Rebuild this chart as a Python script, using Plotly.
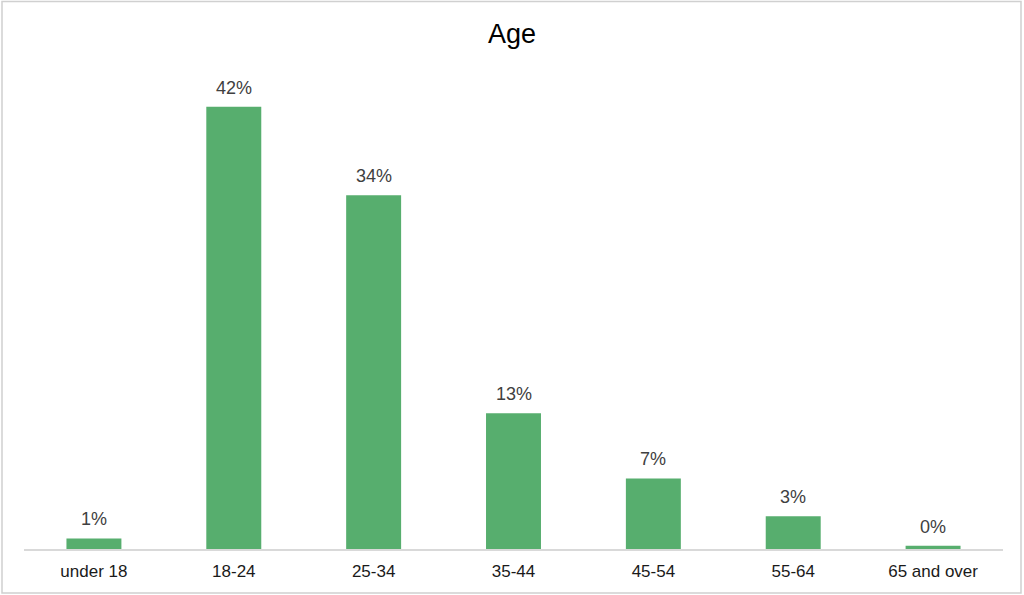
import plotly.graph_objects as go

# age groups and share of respondents (%)
age_groups = ["under 18", "18-24", "25-34", "35-44", "45-54", "55-64", "65 and over"]
share = [1.0, 42.0, 33.6, 12.9, 6.7, 3.1, 0.3]
share_labels = ["1%", "42%", "34%", "13%", "7%", "3%", "0%"]

W, H = 1024, 595
ml, mr, mt, mb = 24, 21, 60, 46
FONT = "Liberation Sans, Arial"

fig = go.Figure()
fig.add_trace(go.Bar(
    x=age_groups,
    y=share,
    marker=dict(color="#57AE6E", line=dict(width=0)),
    hoverinfo="x+y",
))

# value labels above the bars
for grp, val, lab in zip(age_groups, share, share_labels):
    fig.add_annotation(x=grp, y=val, text=lab, showarrow=False,
                       yanchor="bottom", yshift=7,
                       font=dict(size=18, color="#404040", family=FONT))

pw = W - ml - mr
ph = H - mt - mb
# grey frame around the whole chart
fig.add_shape(type="rect", xref="paper", yref="paper",
              x0=(2 - ml) / pw, x1=(1021 - ml) / pw,
              y0=-(593 - (H - mb)) / ph, y1=1 + (mt - 1.5) / ph,
              line=dict(color="#d0d0d0", width=1.5), layer="below")

fig.update_layout(
    width=W, height=H,
    margin=dict(l=ml, r=mr, t=mt, b=mb),
    paper_bgcolor="white", plot_bgcolor="white",
    bargap=0.607,
    showlegend=False,
    title=dict(text="Age", x=0.5, xanchor="center", y=1 - 34 / H, yanchor="middle",
               font=dict(size=27, color="black", family=FONT)),
    font=dict(family=FONT, color="#222"),
)
fig.update_xaxes(showline=True, linecolor="#d9d9d9", linewidth=1.5,
                 showgrid=False, ticks="", ticklabelstandoff=6,
                 tickfont=dict(size=17, color="#1a1a1a"))
fig.update_yaxes(visible=False, range=[0, 46.45])

fig.write_html("out.html", config={"displayModeBar": False},
               post_script="document.body.style.margin='0';")
